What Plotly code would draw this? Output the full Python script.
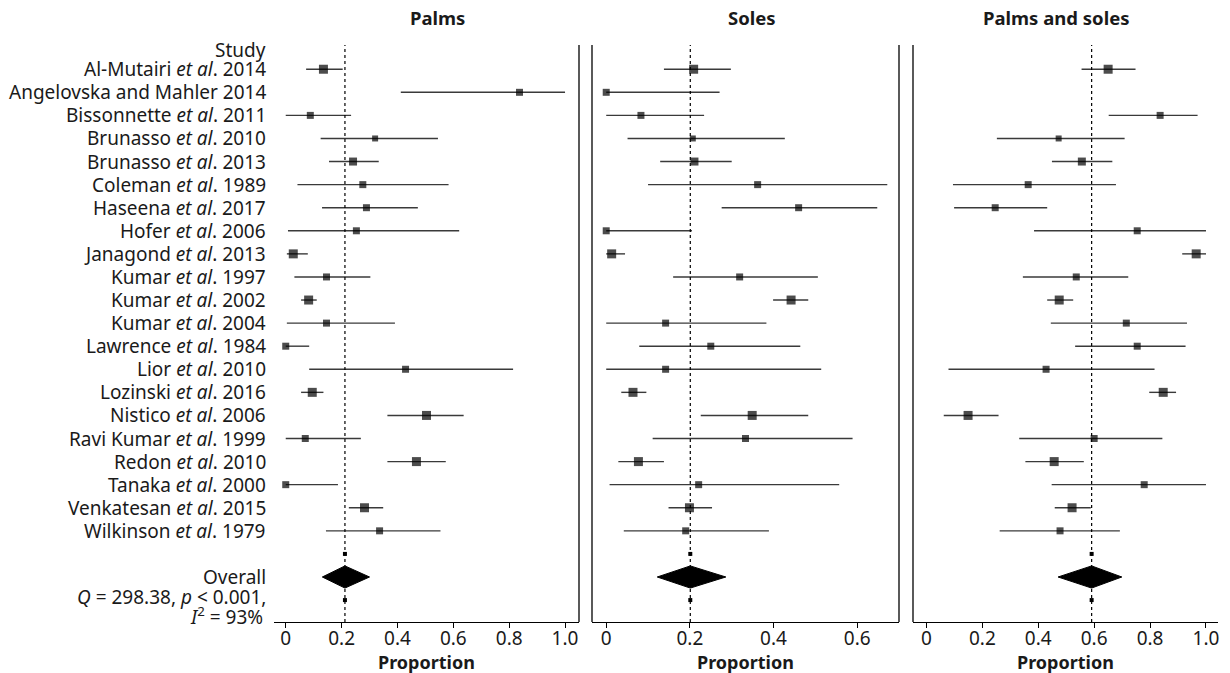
import plotly.graph_objects as go
import numpy as np

# ---------------- data ----------------
studies = [
    "Al-Mutairi <i>et al</i>. 2014", "Angelovska and Mahler 2014", "Bissonnette <i>et al</i>. 2011",
    "Brunasso <i>et al</i>. 2010", "Brunasso <i>et al</i>. 2013", "Coleman <i>et al</i>. 1989",
    "Haseena <i>et al</i>. 2017", "Hofer <i>et al</i>. 2006", "Janagond <i>et al</i>. 2013",
    "Kumar <i>et al</i>. 1997", "Kumar <i>et al</i>. 2002", "Kumar <i>et al</i>. 2004",
    "Lawrence <i>et al</i>. 1984", "Lior <i>et al</i>. 2010", "Lozinski <i>et al</i>. 2016",
    "Nistico <i>et al</i>. 2006", "Ravi Kumar <i>et al</i>. 1999", "Redon <i>et al</i>. 2010",
    "Tanaka <i>et al</i>. 2000", "Venkatesan <i>et al</i>. 2015", "Wilkinson <i>et al</i>. 1979",
]
panel_titles = ["Palms", "Soles", "Palms and soles"]

palms_est = [0.135, 0.837, 0.088, 0.320, 0.241, 0.276, 0.289, 0.253, 0.027, 0.146, 0.082, 0.146,
             0.000, 0.429, 0.095, 0.504, 0.070, 0.468, 0.000, 0.282, 0.336]
palms_lo = [0.073, 0.412, 0.000, 0.125, 0.155, 0.042, 0.130, 0.008, 0.004, 0.031, 0.055, 0.004,
            0.000, 0.084, 0.055, 0.364, 0.000, 0.364, 0.000, 0.226, 0.144]
palms_hi = [0.204, 1.000, 0.234, 0.545, 0.333, 0.583, 0.473, 0.621, 0.079, 0.303, 0.111, 0.391,
            0.084, 0.814, 0.135, 0.637, 0.269, 0.573, 0.187, 0.349, 0.554]
palms_pooled = [0.131, 0.212, 0.300]   # lower, estimate, upper

soles_est = [0.209, 0.000, 0.083, 0.207, 0.211, 0.362, 0.460, 0.000, 0.013, 0.319, 0.442, 0.142,
             0.250, 0.142, 0.064, 0.349, 0.333, 0.077, 0.221, 0.199, 0.190]
soles_lo = [0.138, 0.000, 0.000, 0.051, 0.129, 0.100, 0.276, 0.000, 0.000, 0.160, 0.399, 0.000,
            0.079, 0.000, 0.036, 0.226, 0.111, 0.029, 0.008, 0.149, 0.042]
soles_hi = [0.298, 0.271, 0.234, 0.427, 0.300, 0.672, 0.648, 0.205, 0.045, 0.506, 0.483, 0.383,
            0.464, 0.514, 0.096, 0.483, 0.589, 0.138, 0.557, 0.253, 0.389]
soles_pooled = [0.122, 0.201, 0.286]

both_est = [0.650, None, 0.836, 0.473, 0.556, 0.364, 0.246, 0.754, 0.965, 0.536, 0.475, 0.715,
            0.754, 0.428, 0.847, 0.149, 0.600, 0.457, 0.779, 0.521, 0.478]
both_lo = [0.555, None, 0.652, 0.252, 0.449, 0.095, 0.099, 0.385, 0.915, 0.345, 0.432, 0.445,
           0.532, 0.079, 0.797, 0.062, 0.332, 0.354, 0.448, 0.459, 0.262]
both_hi = [0.748, None, 0.970, 0.709, 0.665, 0.678, 0.432, 1.000, 1.000, 0.722, 0.525, 0.932,
           0.927, 0.816, 0.893, 0.258, 0.844, 0.563, 1.000, 0.588, 0.692]
both_pooled = [0.471, 0.591, 0.699]

heterogeneity = "<i>Q</i> = 298.38, <i>p</i> < 0.001,"
i2_text = "<i>I</i><sup>2</sup> = 93%"

x_ticks = [0, 0.2, 0.4, 0.6, 0.8, 1.0]
x_ticktext = ["0", "0.2", "0.4", "0.6", "0.8", "1.0"]
x_title = "Proportion"

# ---------------- style ----------------
W, H = 1230, 673
FONT = "Noto Sans"
TXT = "#1a1a1a"
LABEL_SIZE = 19
marker_sizes = [9, 7, 7, 6, 8, 7, 7, 7, 9, 7, 9, 7, 7, 7, 9, 9, 7, 9, 7, 9, 7]
panel_px = [(274, 579), (592, 899), (913, 1218)]
x_ranges = [[-0.042, 1.05], [-0.034, 0.70], [-0.048, 1.043]]
top_px, bot_px = 45, 622
PH = bot_px - top_px
title_x_px = [437, 752, 1056]
line_col = "#3a3a3a"

def py(pix):
    """pixel row (from top of page) -> paper y"""
    return (bot_px - pix) / PH

rows = list(range(1, len(studies) + 1))
n = len(studies)
row_sq1, row_diamond, row_sq2 = n + 1, n + 2, n + 3

fig = go.Figure()
panels = [
    (palms_est, palms_lo, palms_hi, palms_pooled),
    (soles_est, soles_lo, soles_hi, soles_pooled),
    (both_est, both_lo, both_hi, both_pooled),
]

for k, (est, lo, hi, pooled) in enumerate(panels):
    xa = "x" if k == 0 else f"x{k+1}"
    ya = "y" if k == 0 else f"y{k+1}"
    e = np.array([np.nan if v is None else v for v in est], dtype=float)
    l = np.array([np.nan if v is None else v for v in lo], dtype=float)
    h = np.array([np.nan if v is None else v for v in hi], dtype=float)
    # CI lines
    fig.add_trace(go.Scatter(
        x=e, y=rows, mode="markers", xaxis=xa, yaxis=ya,
        marker=dict(symbol="square", size=1, color="rgba(0,0,0,0)"),
        error_x=dict(type="data", symmetric=False, array=h - e, arrayminus=e - l,
                     width=0, thickness=1.4, color=line_col),
        showlegend=False, hoverinfo="skip"))
    # study squares on top
    fig.add_trace(go.Scatter(
        x=e, y=rows, mode="markers", xaxis=xa, yaxis=ya,
        marker=dict(symbol="square", size=marker_sizes, color="black", line=dict(width=0)),
        showlegend=False, hoverinfo="skip"))
    # pooled diamond
    plo, pest, phi = pooled
    fig.add_trace(go.Scatter(
        x=[plo, pest, phi, pest, plo], y=[row_diamond, row_diamond - 0.48, row_diamond,
                                          row_diamond + 0.48, row_diamond],
        mode="lines", fill="toself", fillcolor="black", line=dict(color="black", width=1),
        xaxis=xa, yaxis=ya, showlegend=False, hoverinfo="skip"))
    # small squares
    fig.add_trace(go.Scatter(
        x=[pest, pest], y=[row_sq1, row_sq2], mode="markers", xaxis=xa, yaxis=ya,
        marker=dict(symbol="square", size=4, color="black"), showlegend=False, hoverinfo="skip"))
    # dotted reference line
    fig.add_shape(type="line", xref=xa, yref="paper", x0=pest, x1=pest, y0=0, y1=1,
                  line=dict(color="black", width=1.2, dash="dot"))

layout = dict(
    width=W, height=H, margin=dict(l=0, r=0, t=top_px, b=H - bot_px, autoexpand=False),
    plot_bgcolor="white", paper_bgcolor="white",
    font=dict(family=FONT, size=LABEL_SIZE, color=TXT),
)
for k in range(3):
    sfx = "" if k == 0 else str(k + 1)
    x0, x1 = panel_px[k]
    layout[f"xaxis{sfx}"] = dict(
        domain=[x0 / W, x1 / W], range=x_ranges[k], anchor=f"y{sfx}",
        tickvals=[t for t in x_ticks if t <= x_ranges[k][1]],
        ticktext=[tt for t, tt in zip(x_ticks, x_ticktext) if t <= x_ranges[k][1]],
        ticks="outside", ticklen=5, tickcolor="black", showline=True, linecolor="black",
        linewidth=1.3, showgrid=False, zeroline=False, automargin=False,
        ticklabelstandoff=-6,
        tickfont=dict(size=19, family=FONT, color=TXT),
    )
    layout[f"yaxis{sfx}"] = dict(
        domain=[0, 1], range=[n + 3.95, -0.05], anchor=f"x{sfx}", automargin=False,
        showticklabels=False, showgrid=False, zeroline=False, showline=False, ticks="",
    )
fig.update_layout(**layout)

# panel borders
for xr, xpos in [("x", 1), ("x2", 0), ("x2", 1), ("x3", 0)]:
    fig.add_shape(type="line", xref=f"{xr} domain", yref="paper", x0=xpos, x1=xpos,
                  y0=0, y1=1, line=dict(color="black", width=1.3))

# panel titles and axis titles
for k, t in enumerate(panel_titles):
    fig.add_annotation(text=f"<b>{t}</b>", x=title_x_px[k] / W, y=py(18), xref="paper",
                       yref="paper", showarrow=False, xanchor="center", yanchor="middle",
                       font=dict(size=18.5, family=FONT, color=TXT))
    x0, x1 = panel_px[k]
    fig.add_annotation(text=f"<b>{x_title}</b>", x=(x0 + x1) / 2 / W, y=py(662), xref="paper",
                       yref="paper", showarrow=False, xanchor="center", yanchor="middle",
                       font=dict(size=18, family=FONT, color=TXT))

# study labels
label_x = 268 / W
lab_font = dict(size=LABEL_SIZE, family=FONT, color=TXT)
fig.add_annotation(text="Study", x=label_x, y=0.15, xref="paper", yref="y", xanchor="right",
                   yanchor="middle", showarrow=False, font=lab_font)
for r, s in zip(rows, studies):
    fig.add_annotation(text=s, x=label_x, y=r, xref="paper", yref="y", xanchor="right",
                       yanchor="middle", showarrow=False, font=lab_font)
fig.add_annotation(text="Overall", x=label_x, y=row_diamond, xref="paper", yref="y",
                   xanchor="right", yanchor="middle", showarrow=False, font=lab_font)
fig.add_annotation(text=heterogeneity, x=label_x, y=row_diamond + 0.88, xref="paper", yref="y",
                   xanchor="right", yanchor="middle", showarrow=False, font=lab_font)
fig.add_annotation(text=i2_text, x=265 / W, y=row_diamond + 1.7, xref="paper", yref="y",
                   xanchor="right", yanchor="middle", showarrow=False, font=lab_font)

fig.write_html("out.html", config={"displayModeBar": False},
               post_script="document.body.style.margin='0';document.body.style.overflow='hidden';")
